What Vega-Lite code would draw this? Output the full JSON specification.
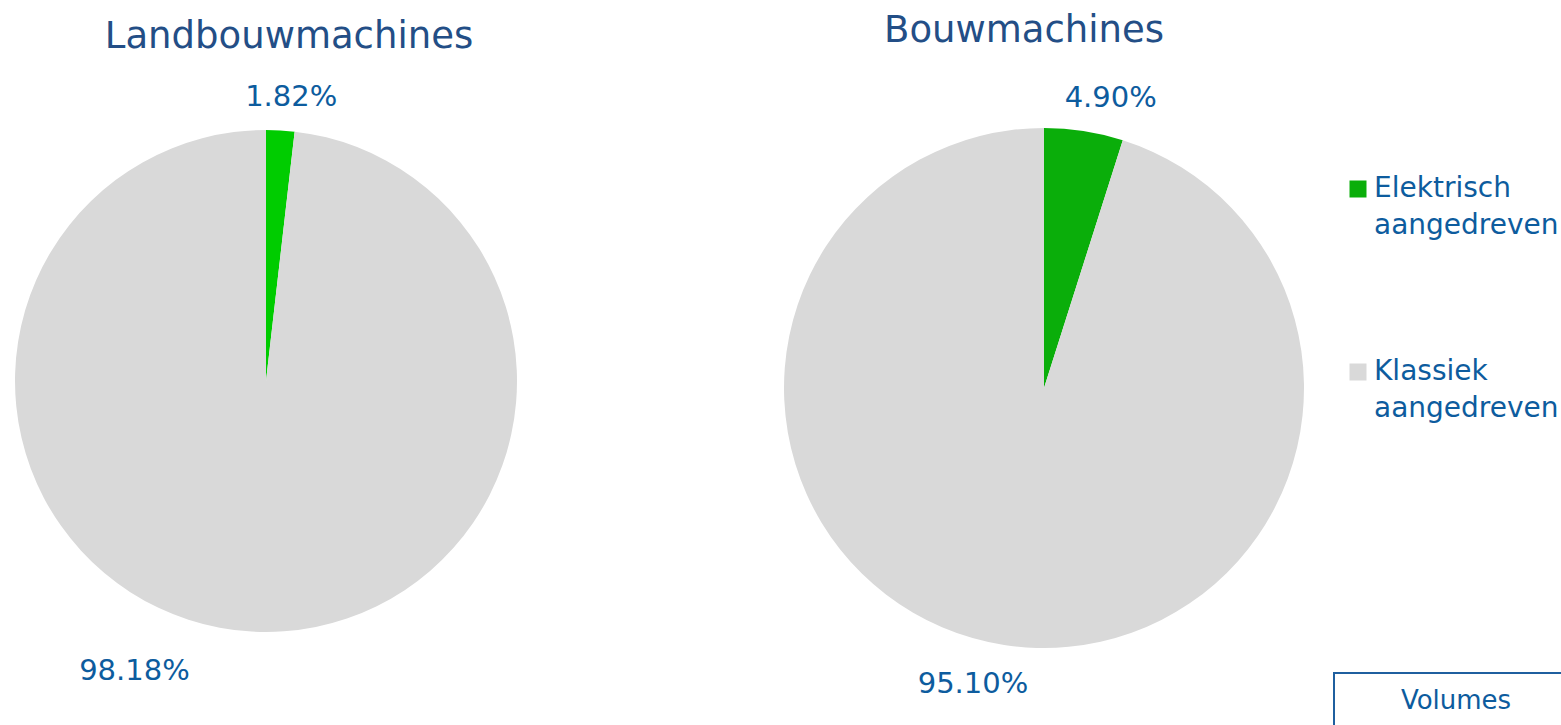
{
  "$schema": "https://vega.github.io/schema/vega-lite/v6.json",
  "padding": {"top": 12, "left": 0, "right": 0, "bottom": 0},
  "background": "white",
  "config": {"view": {"stroke": null}, "font": "DejaVu Sans"},
  "datasets": {
    "pies": [
      {"pie": "Landbouwmachines", "type": "Elektrisch aangedreven", "share": 1.82, "label": "1.82%"},
      {"pie": "Landbouwmachines", "type": "Klassiek aangedreven", "share": 98.18, "label": "98.18%"},
      {"pie": "Bouwmachines", "type": "Elektrisch aangedreven", "share": 4.90, "label": "4.90%"},
      {"pie": "Bouwmachines", "type": "Klassiek aangedreven", "share": 95.10, "label": "95.10%"}
    ]
  },
  "resolve": {"scale": {"color": "independent"}},
  "spacing": 19,
  "hconcat": [
    {
      "spacing": 242,
      "resolve": {"scale": {"color": "independent", "theta": "independent"}},
      "hconcat": [
        {
          "width": 532,
          "height": 642,
          "title": {"text": "Landbouwmachines", "fontSize": 37, "font": "DejaVu Sans", "fontWeight": "normal", "color": "#234E86", "dx": 23, "dy": 6, "offset": 10},
          "data": {"name": "pies"},
          "transform": [{"filter": "datum.pie === 'Landbouwmachines'"}],
          "encoding": {
            "theta": {"field": "share", "type": "quantitative", "stack": true}
          },
          "layer": [
            {
              "mark": {"type": "arc", "radius": 251},
              "encoding": {
                "color": {"field": "type", "type": "nominal", "scale": {"domain": ["Elektrisch aangedreven", "Klassiek aangedreven"], "range": ["#00CC00", "#D9D9D9"]}, "legend": null}
              }
            },
            {
              "mark": {"type": "text", "radius": 284, "dx": 9, "fontSize": 29, "color": "#0D5C9E", "align": "center", "baseline": "middle"},
              "encoding": {"text": {"condition": {"test": "datum.type === 'Elektrisch aangedreven'", "field": "label"}, "value": ""}}
            },
            {
              "mark": {"type": "text", "radius": 290, "dx": -115, "fontSize": 29, "color": "#0D5C9E", "align": "center", "baseline": "middle"},
              "encoding": {"text": {"condition": {"test": "datum.type === 'Klassiek aangedreven'", "field": "label"}, "value": ""}}
            }
          ]
        },
        {
          "width": 540,
          "height": 656,
          "title": {"text": "Bouwmachines", "fontSize": 37, "font": "DejaVu Sans", "fontWeight": "normal", "color": "#234E86", "dx": -20, "offset": 10},
          "data": {"name": "pies"},
          "transform": [{"filter": "datum.pie === 'Bouwmachines'"}],
          "encoding": {
            "theta": {"field": "share", "type": "quantitative", "stack": true}
          },
          "layer": [
            {
              "mark": {"type": "arc", "radius": 260},
              "encoding": {
                "color": {"field": "type", "type": "nominal", "scale": {"domain": ["Elektrisch aangedreven", "Klassiek aangedreven"], "range": ["#0AAE0A", "#D9D9D9"]}, "legend": null}
              }
            },
            {
              "mark": {"type": "text", "radius": 298, "dx": 21, "dy": 4, "fontSize": 29, "color": "#0D5C9E", "align": "center", "baseline": "middle"},
              "encoding": {"text": {"condition": {"test": "datum.type === 'Elektrisch aangedreven'", "field": "label"}, "value": ""}}
            },
            {
              "mark": {"type": "text", "radius": 300, "dx": -25, "fontSize": 29, "color": "#0D5C9E", "align": "center", "baseline": "middle"},
              "encoding": {"text": {"condition": {"test": "datum.type === 'Klassiek aangedreven'", "field": "label"}, "value": ""}}
            }
          ]
        }
      ]
    },
    {
      "spacing": 0,
      "vconcat": [
        {
          "width": 244,
          "height": 612,
          "data": {"name": "pies"},
          "transform": [{"filter": "datum.pie === 'Bouwmachines'"}],
          "mark": {"type": "point", "opacity": 0, "shape": "square", "filled": true},
          "encoding": {
            "color": {
              "field": "type", "type": "nominal",
              "scale": {"domain": ["Elektrisch aangedreven", "Klassiek aangedreven"], "range": ["#0AAE0A", "#D9D9D9"]},
              "legend": {
                "orient": "none", "legendX": 10, "legendY": 115, "title": null, "padding": 0,
                "symbolType": "square", "symbolSize": 289, "symbolOpacity": 1, "symbolStrokeWidth": 0,
                "labelFontSize": 28, "labelFont": "DejaVu Sans", "labelColor": "#0D5C9E",
                "labelExpr": "split(datum.label, ' ')", "labelLimit": 400, "labelOffset": 2,
                "labelBaseline": "middle", "rowPadding": 118,
                "encode": {"labels": {"update": {"lineHeight": {"value": 37}}}}
              }
            }
          }
        },
        {
          "width": 244,
          "height": 56,
          "view": {"stroke": "#1F5F9F", "strokeWidth": 2},
          "data": {"values": [{"t": "Volumes"}]},
          "mark": {"type": "text", "fontSize": 26, "color": "#0D5C9E", "align": "center", "baseline": "middle"},
          "encoding": {"text": {"field": "t"}}
        }
      ]
    }
  ]
}
